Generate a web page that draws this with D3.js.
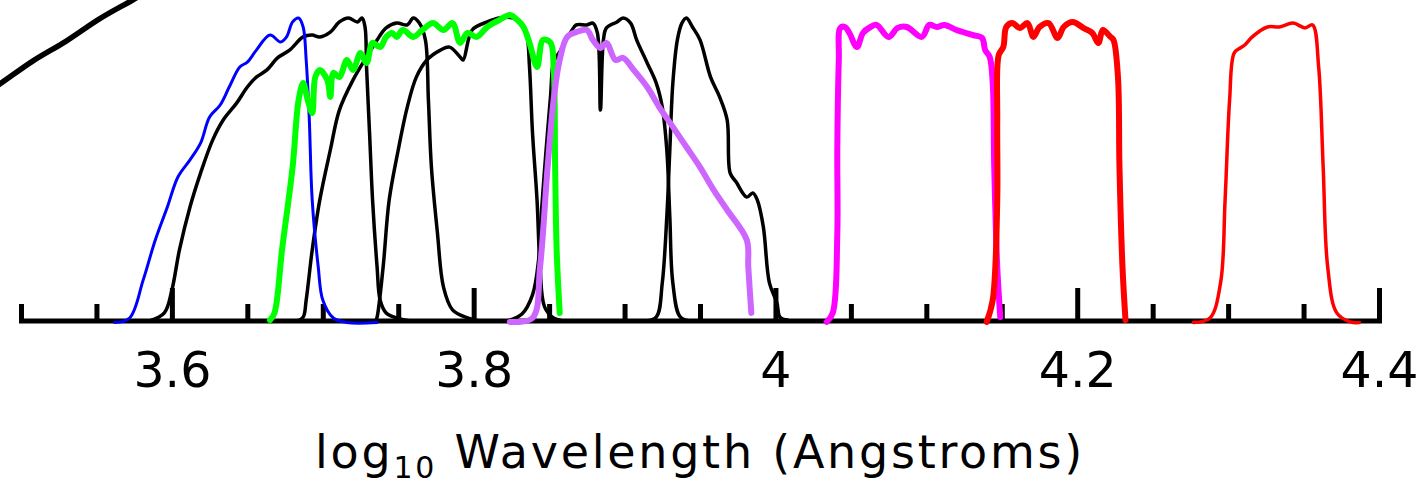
<!DOCTYPE html>
<html>
<head>
<meta charset="utf-8">
<script src="https://cdn.jsdelivr.net/npm/d3@7"></script>
<style>
  html, body { margin: 0; padding: 0; background: #fff; }
  svg { display: block; }
  text { font-family: "DejaVu Sans", sans-serif; fill: #000; }
</style>
</head>
<body>
<svg id="chart" width="1419" height="485"></svg>
<script>
// filter curves: [log10 wavelength, relative transmission]
var refLine = [[3.476, 0.757], [3.486, 0.79], [3.508, 0.867], [3.530, 0.933], [3.552, 1.007], [3.574, 1.07], [3.585, 1.103]];

var blueCurve = [[3.562, -0.005], [3.572, 0.01], [3.581, 0.137], [3.589, 0.27], [3.597, 0.38], [3.604, 0.48], [3.612, 0.537],
  [3.619, 0.593], [3.625, 0.68], [3.632, 0.72], [3.638, 0.78], [3.645, 0.847], [3.650, 0.863], [3.656, 0.903],
  [3.665, 0.953], [3.672, 0.93], [3.676, 0.947], [3.680, 0.997], [3.684, 1.01], [3.687, 0.98], [3.689, 0.87],
  [3.691, 0.68], [3.693, 0.403], [3.697, 0.18], [3.700, 0.07], [3.707, 0.01], [3.716, -0.005], [3.736, -0.005]];

var blackA = [[3.585, 0], [3.595, 0.027], [3.600, 0.103], [3.605, 0.237], [3.612, 0.38], [3.619, 0.493], [3.627, 0.603],
  [3.634, 0.67], [3.643, 0.727], [3.650, 0.78], [3.656, 0.813], [3.663, 0.837], [3.670, 0.877], [3.678, 0.903],
  [3.687, 0.947], [3.693, 0.953], [3.698, 0.947], [3.705, 0.963], [3.711, 0.997], [3.717, 1.01], [3.723, 0.997],
  [3.726, 1.01], [3.728, 0.98], [3.729, 0.847], [3.731, 0.627], [3.733, 0.403], [3.736, 0.18], [3.738, 0.07],
  [3.742, 0.027], [3.749, 0.01], [3.758, 0]];

var blackB = [[3.683, 0], [3.687, 0.013], [3.689, 0.07], [3.693, 0.237], [3.698, 0.403], [3.705, 0.57], [3.711, 0.703],
  [3.720, 0.803], [3.729, 0.88], [3.736, 0.937], [3.742, 0.977], [3.749, 0.993], [3.756, 0.987], [3.760, 1.01],
  [3.764, 0.993], [3.768, 0.937], [3.770, 0.737], [3.772, 0.513], [3.776, 0.293], [3.780, 0.113], [3.786, 0.037],
  [3.796, 0.01], [3.804, 0]];

var blackC = [[3.735, 0], [3.736, 0.013], [3.740, 0.18], [3.744, 0.403], [3.750, 0.57], [3.756, 0.713], [3.762, 0.813],
  [3.769, 0.87], [3.778, 0.903], [3.784, 0.913], [3.791, 0.88], [3.793, 0.87], [3.799, 0.97], [3.809, 0.997],
  [3.817, 1.01], [3.826, 1.01], [3.831, 0.997], [3.835, 0.96], [3.837, 0.847], [3.839, 0.627], [3.842, 0.403],
  [3.844, 0.18], [3.847, 0.047], [3.853, 0.01], [3.860, 0]];

var blackD = [[3.821, 0], [3.824, 0.003], [3.832, 0.023], [3.839, 0.087], [3.843, 0.203], [3.845, 0.37], [3.848, 0.57],
  [3.851, 0.753], [3.853, 0.863], [3.857, 0.897], [3.864, 0.96], [3.868, 0.987], [3.875, 0.987], [3.879, 0.993],
  [3.882, 0.96], [3.884, 0.703], [3.886, 0.937], [3.888, 0.977], [3.895, 0.997], [3.899, 1.01], [3.904, 0.993],
  [3.908, 0.937], [3.915, 0.86], [3.921, 0.793], [3.925, 0.713], [3.928, 0.57], [3.930, 0.347], [3.932, 0.127],
  [3.937, 0.013], [3.945, 0]];

var blackE = [[3.913, 0], [3.921, 0.013], [3.925, 0.127], [3.928, 0.347], [3.930, 0.57], [3.932, 0.793], [3.935, 0.937],
  [3.938, 0.993], [3.941, 1.01], [3.945, 0.98], [3.950, 0.937], [3.957, 0.813], [3.963, 0.747], [3.968, 0.67],
  [3.970, 0.493], [3.974, 0.463], [3.981, 0.413], [3.985, 0.427], [3.988, 0.403], [3.992, 0.313], [3.996, 0.127],
  [4.001, 0.06], [4.003, 0.013], [4.008, 0.003]];

var greenCurve = [[3.665, 0.003], [3.668, 0.027], [3.673, 0.237], [3.680, 0.513], [3.684, 0.737], [3.687, 0.793],
  [3.690, 0.737], [3.693, 0.693], [3.695, 0.813], [3.698, 0.837], [3.703, 0.803], [3.705, 0.747], [3.707, 0.827],
  [3.711, 0.813], [3.716, 0.87], [3.720, 0.837], [3.725, 0.893], [3.729, 0.86], [3.733, 0.927], [3.738, 0.913],
  [3.742, 0.947], [3.746, 0.96], [3.749, 0.947], [3.753, 0.97], [3.760, 0.947], [3.766, 0.97], [3.773, 0.993],
  [3.780, 0.97], [3.786, 0.993], [3.791, 0.927], [3.796, 0.96], [3.802, 0.947], [3.809, 0.98], [3.817, 1.003],
  [3.824, 1.02], [3.829, 1.003], [3.833, 0.98], [3.837, 0.927], [3.842, 0.847], [3.846, 0.937], [3.851, 0.927],
  [3.853, 0.847], [3.854, 0.513], [3.855, 0.237], [3.857, 0.027]];

var violetCurve = [[3.824, -0.003], [3.839, 0.01], [3.844, 0.18], [3.849, 0.513], [3.853, 0.737], [3.857, 0.87], [3.862, 0.947],
  [3.868, 0.963], [3.875, 0.97], [3.879, 0.937], [3.884, 0.91], [3.888, 0.927], [3.894, 0.87], [3.899, 0.877],
  [3.906, 0.837], [3.915, 0.78], [3.923, 0.713], [3.932, 0.647], [3.941, 0.58], [3.950, 0.513], [3.959, 0.437],
  [3.968, 0.37], [3.981, 0.27], [3.982, 0.18], [3.984, 0.027]];

var magentaCurve = [[4.034, -0.003], [4.038, 0.027], [4.041, 0.293], [4.041, 0.57], [4.042, 0.87], [4.043, 0.977], [4.046, 0.98],
  [4.049, 0.96], [4.054, 0.913], [4.058, 0.96], [4.063, 0.98], [4.067, 0.987], [4.075, 0.947], [4.081, 0.977],
  [4.087, 0.98], [4.097, 0.947], [4.102, 0.987], [4.107, 0.98], [4.112, 0.987], [4.120, 0.97], [4.131, 0.953],
  [4.137, 0.943], [4.139, 0.903], [4.142, 0.88], [4.144, 0.793], [4.145, 0.513], [4.147, 0.18], [4.149, 0.013]];

var redCurve = [[4.140, -0.003], [4.144, 0.07], [4.147, 0.403], [4.147, 0.67], [4.148, 0.887], [4.151, 0.913], [4.153, 0.98],
  [4.157, 0.993], [4.162, 0.977], [4.167, 0.993], [4.171, 0.947], [4.175, 0.98], [4.181, 0.993], [4.187, 0.943],
  [4.191, 0.98], [4.197, 0.997], [4.204, 0.977], [4.210, 0.96], [4.214, 0.927], [4.217, 0.97], [4.222, 0.947],
  [4.224, 0.937], [4.227, 0.813], [4.228, 0.513], [4.230, 0.18], [4.232, 0.003]];

var redThinCurve = [[4.277, -0.005], [4.288, 0.01], [4.295, 0.127], [4.298, 0.403], [4.301, 0.737], [4.304, 0.893],
  [4.308, 0.91], [4.311, 0.92], [4.316, 0.947], [4.326, 0.98], [4.334, 0.98], [4.343, 0.993], [4.351, 0.977],
  [4.356, 0.987], [4.360, 0.847], [4.363, 0.513], [4.366, 0.18], [4.372, 0.027], [4.381, -0.003], [4.387, -0.005]];

var majorTicks = [3.6, 3.8, 4.0, 4.2, 4.4];
var minorTicks = [3.5, 3.55, 3.65, 3.7, 3.75, 3.85, 3.9, 3.95, 4.05, 4.1, 4.15, 4.25, 4.3, 4.35];
var xTitle = "Wavelength (Angstroms)";

var series = [
  { pts: refLine, color: "#000000", width: 5.5 },
  { pts: blackA, color: "#000000", width: 3.5 },
  { pts: blackB, color: "#000000", width: 3.5 },
  { pts: blackC, color: "#000000", width: 3.5 },
  { pts: blackD, color: "#000000", width: 3.5 },
  { pts: blackE, color: "#000000", width: 3.5 },
  { pts: blueCurve, color: "#0000ff", width: 3 },
  { pts: greenCurve, color: "#00ff00", width: 6 },
  { pts: violetCurve, color: "#cc66ff", width: 6 },
  { pts: magentaCurve, color: "#ff00ff", width: 6 },
  { pts: redCurve, color: "#ff0000", width: 6 },
  { pts: redThinCurve, color: "#ff0000", width: 3.5 }
];

var svg = d3.select("#chart");
var axisY = 321;

var x = d3.scaleLinear().domain([3.5, 4.4]).range([21, 1379]);
var y = d3.scaleLinear().domain([0, 1]).range([axisY, 21]);

var line = d3.line()
  .x(function (d) { return x(d[0]); })
  .y(function (d) { return y(d[1]); })
  .curve(d3.curveCatmullRom.alpha(0.5));

// minor ticks
var minorAxis = d3.axisBottom(x).tickValues(minorTicks).tickSize(-17).tickSizeOuter(0).tickFormat("");
var gMinor = svg.append("g").attr("transform", "translate(0," + axisY + ")").call(minorAxis);
gMinor.select(".domain").remove();
gMinor.selectAll("line").attr("stroke", "#000").attr("stroke-width", 5);

// major ticks + labels
var majorAxis = d3.axisBottom(x).tickValues(majorTicks).tickSize(-33).tickSizeOuter(0)
  .tickFormat(function (d) { return d === 4 ? "4" : d3.format(".1f")(d); });
var gMajor = svg.append("g").attr("transform", "translate(0," + axisY + ")").call(majorAxis);
gMajor.select(".domain").attr("stroke", "#000").attr("stroke-width", 5).attr("d", "M19,0H1382");
gMajor.selectAll("line").attr("stroke", "#000").attr("stroke-width", 5);
gMajor.selectAll("text")
  .attr("y", 66).attr("dy", null)
  .attr("font-size", 49)
  .attr("font-family", "DejaVu Sans, sans-serif")
  .attr("fill", "#000");

// curves drawn over the axis line
svg.append("g").selectAll("path")
  .data(series)
  .enter().append("path")
  .attr("d", function (d) { return line(d.pts); })
  .attr("fill", "none")
  .attr("stroke", function (d) { return d.color; })
  .attr("stroke-width", function (d) { return d.width; })
  .attr("stroke-linejoin", "round")
  .attr("stroke-linecap", "round");

// axis title
var title = svg.append("text")
  .attr("x", 700).attr("y", 468)
  .attr("text-anchor", "middle")
  .attr("font-size", 46);
title.append("tspan").text("log");
title.append("tspan").attr("font-size", 30).attr("dy", 10).text("10");
title.append("tspan").attr("dy", -10).text(" " + xTitle);

var len = title.node().getComputedTextLength();
var nChars = ("log10 " + xTitle).length;
title.attr("letter-spacing", ((770 - len) / nChars).toFixed(2));
</script>
</body>
</html>
